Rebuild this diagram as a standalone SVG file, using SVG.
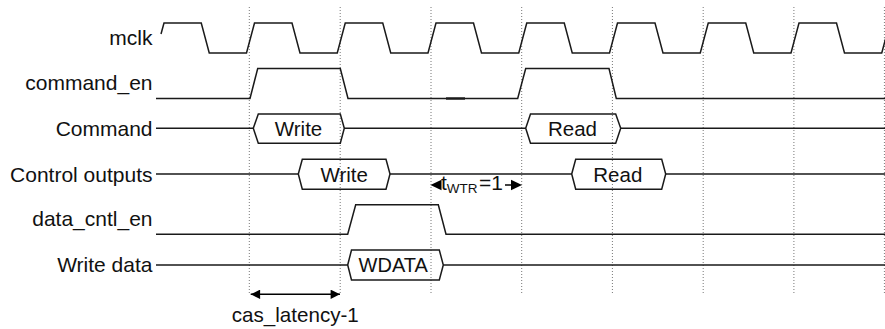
<svg xmlns="http://www.w3.org/2000/svg" width="885" height="329" viewBox="0 0 885 329">
<style>
.lbl{font-family:"Liberation Sans",Arial,sans-serif;font-size:21px;fill:#111;text-anchor:end}
.val{font-family:"Liberation Sans",Arial,sans-serif;font-size:20.5px;fill:#111;text-anchor:middle}
.sig{fill:none;stroke:#1a1a1a;stroke-width:1.5;stroke-linejoin:miter}
.grid{stroke:#777;stroke-width:1;stroke-dasharray:1,2}
.arr{stroke:#000;stroke-width:1.5;fill:none}
.head{fill:#000}
</style>
<defs>
<marker id="ah" viewBox="0 0 10 10" refX="10" refY="5" markerWidth="12.5" markerHeight="9.4" markerUnits="userSpaceOnUse" orient="auto-start-reverse"><path d="M0,0 L10,5 L0,10 z" fill="#000"/></marker>
</defs>
<rect width="885" height="329" fill="#fff"/>
<g id="grid">
<line class="grid" x1="249.3" y1="7" x2="249.3" y2="295"/>
<line class="grid" x1="340.2" y1="7" x2="340.2" y2="295"/>
<line class="grid" x1="431" y1="7" x2="431" y2="295"/>
<line class="grid" x1="521.7" y1="7" x2="521.7" y2="295"/>
<line class="grid" x1="612.4" y1="7" x2="612.4" y2="295"/>
<line class="grid" x1="703.2" y1="7" x2="703.2" y2="295"/>
<line class="grid" x1="793.9" y1="7" x2="793.9" y2="295"/>
<line class="grid" x1="884.4" y1="7" x2="884.4" y2="295"/>
</g>
<g id="mclk">
<text class="lbl" x="152.5" y="45">mclk</text>
<path class="sig" d="M161,34 L164,23 H201.25 L209.25,53 H246.5 L254.5,23 H292 L300,53 H337.25 L345.25,23 H382.75 L390.75,53 H428 L436,23 H473.5 L481.5,53 H518.75 L526.75,23 H564.25 L572.25,53 H609.5 L617.5,23 H655 L663,53 H700.25 L708.25,23 H745.75 L753.75,53 H791 L799,23 H836.5 L844.5,53 H881.75 L889.75,23"/>
</g>
<g id="command_en">
<text class="lbl" x="152.5" y="90">command_en</text>
<path class="sig" d="M156,98.5 H250 L257.7,68.5 H340.3 L348,98.5 H517.7 L525.7,68.5 H609 L616.3,98.5 H885"/>
<line x1="446" y1="98.5" x2="465" y2="98.5" stroke="#1a1a1a" stroke-width="2.4"/>
</g>
<g id="command">
<text class="lbl" x="152.5" y="136">Command</text>
<path class="sig" d="M156,128.3 H253.3 M344.3,128.3 H525.7 M620.7,128.3 H885"/>
<path class="sig" d="M253.3,128.3 L258.3,114 H340.3 L344.3,128.3 L340.3,143.3 H258.3 Z"/>
<path class="sig" d="M525.7,128.3 L530.5,114 H615.7 L620.7,128.3 L615.7,143.3 H530.5 Z"/>
<text class="val" x="298.5" y="136">Write</text>
<text class="val" x="572.5" y="136">Read</text>
</g>
<g id="control_outputs">
<text class="lbl" x="152.5" y="181.5">Control outputs</text>
<path class="sig" d="M156,174 H298.3 M390,174 H571.7 M665.7,174 H885"/>
<path class="sig" d="M298.3,174 L302.3,159.3 H386 L390,174 L386,189.3 H302.3 Z"/>
<path class="sig" d="M571.7,174 L575.7,159.3 H661.7 L665.7,174 L661.7,189.3 H575.7 Z"/>
<text class="val" x="344.2" y="181.5">Write</text>
<text class="val" x="617.8" y="181.5">Read</text>
</g>
<g id="data_cntl_en">
<text class="lbl" x="152.5" y="226">data_cntl_en</text>
<path class="sig" d="M156,234.3 H347.7 L355.7,204.7 H438.3 L446,234.3 H885"/>
</g>
<g id="write_data">
<text class="lbl" x="152.5" y="271.5">Write data</text>
<path class="sig" d="M156,265 H347.7 M443.3,265 H885"/>
<path class="sig" d="M347.7,265 L351.5,250 H439.3 L443.3,265 L439.3,280 H351.5 Z"/>
<text class="val" x="393.2" y="271.5" style="font-size:20px">WDATA</text>
</g>
<g id="connectors">
<line class="arr" x1="250.7" y1="294.3" x2="340" y2="294.3" marker-start="url(#ah)" marker-end="url(#ah)"/>
<polygon class="head" points="430.5,185 441.5,179.8 441.5,190.2"/>
<line class="arr" x1="505" y1="185" x2="513" y2="185"/>
<polygon class="head" points="522,185 511,179.8 511,190.2"/>
</g>
<g id="annotations">
<text x="295.3" y="322" class="val" style="font-size:20.6px">cas_latency-1</text>
<text x="441" y="189.5" style="font-family:'Liberation Sans',Arial,sans-serif;font-size:21px;fill:#111">t<tspan font-size="13.5" dy="3.5">WTR</tspan><tspan dx="1.5" dy="-3.5">=1</tspan></text>
</g>
</svg>
